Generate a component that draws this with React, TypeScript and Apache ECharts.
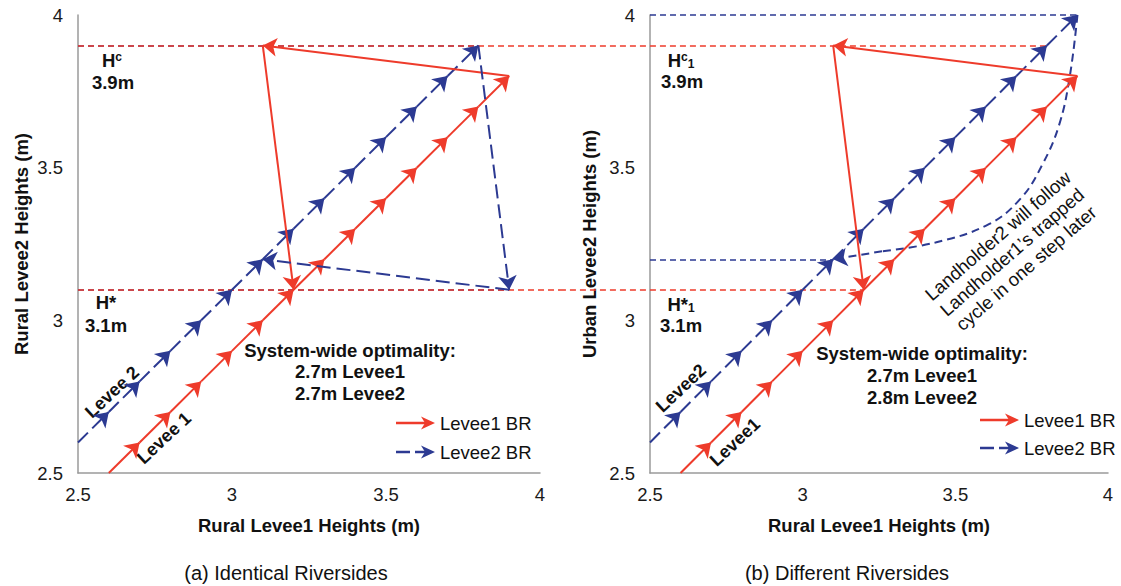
import React, { useEffect, useRef } from "react";
import * as echarts from "echarts";

const RED = "#EE3B2B";
const BLUE = "#2C3A92";
const FONT = "'Liberation Sans', Arial, sans-serif";

// ---------- Panel (a): Identical Riversides ----------
const levee1BR_A = [
  [2.6, 2.5], [2.7, 2.6], [2.8, 2.7], [2.9, 2.8], [3.0, 2.9], [3.1, 3.0], [3.2, 3.1],
  [3.3, 3.2], [3.4, 3.3], [3.5, 3.4], [3.6, 3.5], [3.7, 3.6], [3.8, 3.7], [3.9, 3.8],
];
const levee2BR_A = [
  [2.5, 2.6], [2.6, 2.7], [2.7, 2.8], [2.8, 2.9], [2.9, 3.0], [3.0, 3.1], [3.1, 3.2],
  [3.2, 3.3], [3.3, 3.4], [3.4, 3.5], [3.5, 3.6], [3.6, 3.7], [3.7, 3.8], [3.8, 3.9],
];
const levee1Cycle_A = [[3.9, 3.8], [3.1, 3.9], [3.2, 3.1]];
const levee2Cycle_A = [[3.8, 3.9], [3.9, 3.1], [3.1, 3.2]];
const refRed_A = [
  [[2.5, 3.9], [4.065, 3.9]],
  [[2.5, 3.1], [4.065, 3.1]],
];
const refBlue_A = [
  [[2.5, 3.9], [3.8, 3.9]],
  [[2.5, 3.1], [3.9, 3.1]],
];

// ---------- Panel (b): Different Riversides ----------
const levee1BR_B = [
  [2.6, 2.5], [2.7, 2.6], [2.8, 2.7], [2.9, 2.8], [3.0, 2.9], [3.1, 3.0], [3.2, 3.1],
  [3.3, 3.2], [3.4, 3.3], [3.5, 3.4], [3.6, 3.5], [3.7, 3.6], [3.8, 3.7], [3.9, 3.8],
];
const levee2BR_B = [
  [2.5, 2.6], [2.6, 2.7], [2.7, 2.8], [2.8, 2.9], [2.9, 3.0], [3.0, 3.1], [3.1, 3.2],
  [3.2, 3.3], [3.3, 3.4], [3.4, 3.5], [3.5, 3.6], [3.6, 3.7], [3.7, 3.8], [3.8, 3.9],
  [3.9, 4.0],
];
const levee1Cycle_B = [[3.9, 3.8], [3.1, 3.9], [3.2, 3.1]];
const levee2Curve_B = [
  [3.9, 4.0], [3.875, 3.8], [3.84, 3.64], [3.785, 3.51], [3.715, 3.4],
  [3.61, 3.315], [3.435, 3.255], [3.26, 3.226], [3.1, 3.2],
];
const refRed_B = [
  [[2.205, 3.9], [3.8, 3.9]],
  [[2.205, 3.1], [3.2, 3.1]],
];
const refBlue_B = [
  [[2.5, 4.0], [3.9, 4.0]],
  [[2.5, 3.2], [3.1, 3.2]],
];

const xTicks = [2.5, 3, 3.5, 4];

const toSegments = (pts: number[][]) =>
  pts.slice(1).map((p, i) => ({ coords: [pts[i], p] }));

function arrowLines(idx: number, name: string, pts: number[][], color: string, dash: any, width = 2) {
  return {
    type: "lines",
    name,
    coordinateSystem: "cartesian2d",
    xAxisIndex: idx,
    yAxisIndex: idx,
    symbol: ["none", "arrow"],
    symbolSize: 14,
    lineStyle: { color, width, type: dash, opacity: 1 },
    data: toSegments(pts),
    z: 5,
  };
}

function refLines(idx: number, segs: number[][][], color: string, z: number) {
  return {
    type: "lines",
    coordinateSystem: "cartesian2d",
    xAxisIndex: idx,
    yAxisIndex: idx,
    clip: false,
    symbol: ["none", "none"],
    lineStyle: { color, width: 1.5, type: [6, 4], opacity: 1 },
    data: segs.map((s) => ({ coords: s })),
    z,
  };
}

function axisX(idx: number) {
  return {
    type: "value",
    gridIndex: idx,
    min: xTicks[0],
    max: xTicks[xTicks.length - 1],
    interval: 0.5,
    name: "Rural Levee1 Heights (m)",
    nameLocation: "middle",
    nameGap: 43,
    nameTextStyle: { fontSize: 18.5, fontWeight: "bold", color: "#111", fontFamily: FONT },
    splitLine: { show: false },
    axisTick: { show: false },
    axisLine: { show: true, lineStyle: { color: "#9a9a9a", width: 1.5 } },
    axisLabel: { color: "#1a1a1a", fontSize: 18.5, fontFamily: FONT, margin: 12 },
  };
}

function axisY(idx: number, name: string, gap: number) {
  return {
    type: "value",
    gridIndex: idx,
    min: 2.5,
    max: 4,
    interval: 0.5,
    name,
    nameLocation: "middle",
    nameGap: gap,
    nameTextStyle: { fontSize: 18.5, fontWeight: "bold", color: "#111", fontFamily: FONT },
    splitLine: { show: false },
    axisTick: { show: false },
    axisLine: { show: true, lineStyle: { color: "#9a9a9a", width: 1.5 } },
    axisLabel: { color: "#1a1a1a", fontSize: 18.5, fontFamily: FONT, margin: 15 },
  };
}

function txt(x: number, y: number, text: string, opts: any = {}) {
  return {
    type: "text",
    x,
    y,
    rotation: opts.rotation || 0,
    style: {
      text,
      fill: "#111",
      fontFamily: FONT,
      fontSize: opts.fontSize || 18.5,
      fontWeight: opts.bold === false ? "normal" : "bold",
      align: opts.align || "center",
      verticalAlign: "middle",
      lineHeight: opts.lineHeight,
      rich: opts.rich,
    },
  };
}

function legendArrow(x1: number, x2: number, y: number, color: string, dashed: boolean) {
  return {
    type: "group",
    children: [
      {
        type: "line",
        shape: { x1, y1: y, x2: x2 - 5, y2: y },
        style: { stroke: color, lineWidth: 2.5, lineDash: dashed ? [14, 5] : null },
      },
      {
        type: "polygon",
        shape: { points: [[x2, y], [x2 - 14, y - 6.5], [x2 - 10, y], [x2 - 14, y + 6.5]] },
        style: { fill: color },
      },
    ],
  };
}

const richH = {
  h: { fontSize: 18.5, fontWeight: "bold", fontFamily: FONT, fill: "#111" },
  s: { fontSize: 12, fontWeight: "bold", fontFamily: FONT, fill: "#111", verticalAlign: "top" },
  b: { fontSize: 12, fontWeight: "bold", fontFamily: FONT, fill: "#111", verticalAlign: "bottom" },
};

export default function App() {
  const ref = useRef<HTMLDivElement>(null);
  useEffect(() => {
    const chart = echarts.init(ref.current!, null, { renderer: "svg" });
    const curveBody = levee2Curve_B.slice(0, levee2Curve_B.length - 1);
    const curveTip = levee2Curve_B.slice(levee2Curve_B.length - 2);
    chart.setOption({
      animation: false,
      backgroundColor: "#fff",
      grid: [
        { left: 78, top: 15, width: 462, height: 458 },
        { left: 650, top: 15, width: 458, height: 458 },
      ],
      xAxis: [axisX(0), axisX(1)],
      yAxis: [
        axisY(0, "Rural Levee2 Heights (m)", 47),
        axisY(1, "Urban Levee2 Heights (m)", 51),
      ],
      series: [
        refLines(0, refBlue_A, BLUE, 1),
        refLines(0, refRed_A, RED, 2),
        refLines(1, refBlue_B, BLUE, 1),
        refLines(1, refRed_B, RED, 2),
        arrowLines(0, "Levee2 BR", levee2BR_A, BLUE, [14, 6]),
        arrowLines(0, "Levee1 BR", levee1BR_A, RED, "solid"),
        arrowLines(0, "Levee1 BR", levee1Cycle_A, RED, "solid"),
        arrowLines(0, "Levee2 BR", levee2Cycle_A, BLUE, [14, 6]),
        arrowLines(1, "Levee2 BR", levee2BR_B, BLUE, [14, 6]),
        arrowLines(1, "Levee1 BR", levee1BR_B, RED, "solid"),
        arrowLines(1, "Levee1 BR", levee1Cycle_B, RED, "solid"),
        {
          type: "line",
          xAxisIndex: 1,
          yAxisIndex: 1,
          smooth: 0.4,
          showSymbol: false,
          symbol: "none",
          lineStyle: { color: BLUE, width: 2, type: [8, 5] },
          data: curveBody,
          z: 4,
        },
        arrowLines(1, "Levee2 BR", curveTip, BLUE, [8, 5]),
      ],
      graphic: [
        // panel (a) labels
        txt(112, 60, "{h|H}{s|c}", { rich: richH }),
        txt(113, 82, "3.9m"),
        txt(106, 302, "H*"),
        txt(106, 325, "3.1m"),
        txt(350, 371.5, "System-wide optimality:\n2.7m Levee1\n2.7m Levee2", { lineHeight: 21.5 }),
        txt(112, 392, "Levee 2", { rotation: (43 * Math.PI) / 180, fontSize: 18 }),
        txt(164, 438, "Levee 1", { rotation: (43 * Math.PI) / 180, fontSize: 18 }),
        legendArrow(396, 435, 423, RED, false),
        legendArrow(396, 435, 452, BLUE, true),
        txt(440, 423, "Levee1 BR", { bold: false, align: "left", fontSize: 18.5 }),
        txt(440, 452, "Levee2 BR", { bold: false, align: "left", fontSize: 18.5 }),
        txt(286, 573, "(a) Identical Riversides", { bold: false, fontSize: 20 }),
        // panel (b) labels
        txt(681, 60, "{h|H}{s|c}{b|1}", { rich: richH }),
        txt(682, 81, "3.9m"),
        txt(681, 304, "{h|H*}{b|1}", { rich: richH }),
        txt(681, 325, "3.1m"),
        txt(922, 375, "System-wide optimality:\n2.7m Levee1\n2.8m Levee2", { lineHeight: 22 }),
        txt(681, 388, "Levee2", { rotation: (43 * Math.PI) / 180, fontSize: 18 }),
        txt(735, 442, "Levee1", { rotation: (43 * Math.PI) / 180, fontSize: 18 }),
        txt(1012, 252, "Landholder2 will follow\nLandholder1’s trapped\ncycle in one step later", {
          bold: false,
          fontSize: 18.5,
          lineHeight: 21.5,
          rotation: (41 * Math.PI) / 180,
        }),
        legendArrow(980, 1019, 420, RED, false),
        legendArrow(980, 1019, 448, BLUE, true),
        txt(1024, 420, "Levee1 BR", { bold: false, align: "left", fontSize: 18.5 }),
        txt(1024, 448, "Levee2 BR", { bold: false, align: "left", fontSize: 18.5 }),
        txt(847, 573, "(b) Different Riversides", { bold: false, fontSize: 20 }),
      ],
    });
    return () => chart.dispose();
  }, []);
  return (
    <div
      ref={ref}
      style={{ position: "absolute", left: 0, top: 0, width: 1121, height: 586, background: "#fff" }}
    />
  );
}
